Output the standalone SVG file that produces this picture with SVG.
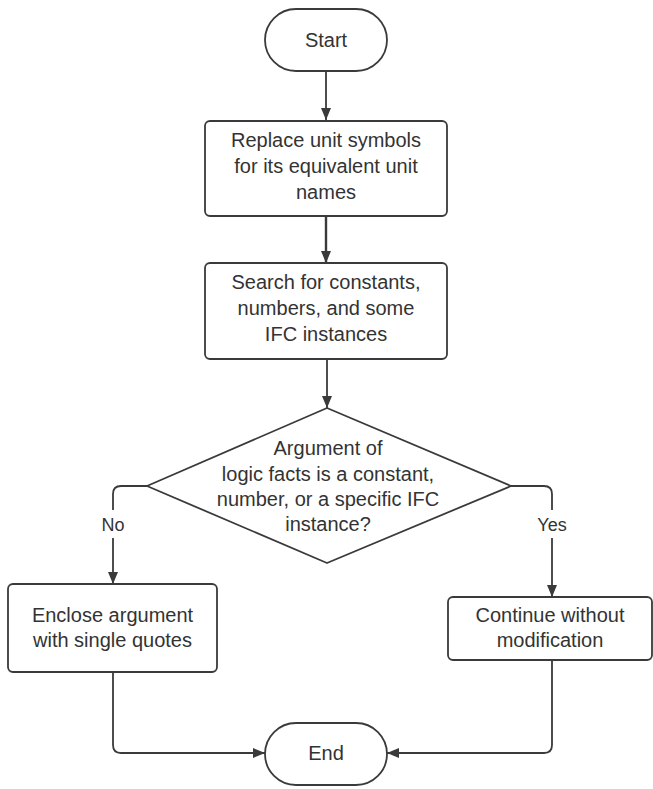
<svg xmlns="http://www.w3.org/2000/svg" width="653" height="789" viewBox="0 0 653 789">
<defs>
<style>
.node{fill:#fff;stroke:#3a3a3a;stroke-width:1.8}
.t{font-family:"Liberation Sans",Arial,sans-serif;font-size:20px;fill:#333;text-anchor:middle}
.lbl{font-family:"Liberation Sans",Arial,sans-serif;font-size:18px;fill:#333;text-anchor:middle}
.c{fill:none;stroke:#3a3a3a;stroke-width:1.8}
</style>
<marker id="ah" markerUnits="userSpaceOnUse" markerWidth="12" markerHeight="10" refX="12" refY="5" orient="auto">
<path d="M0,0 L12,5 L0,10 z" fill="#3a3a3a"/>
</marker>
</defs>
<rect width="653" height="789" fill="#fff"/>
<g id="connectors">
<path class="c" d="M326,71 V120" marker-end="url(#ah)"/>
<path class="c" d="M326,216 V263" marker-end="url(#ah)" style="stroke-width:2.4"/>
<path class="c" d="M327,359 V408" marker-end="url(#ah)"/>
<path class="c" d="M147,486 H121 Q113,486 113,494 V510"/>
<path class="c" d="M113,538 V584" marker-end="url(#ah)"/>
<path class="c" d="M511,486 H544 Q552,486 552,494 V510"/>
<path class="c" d="M552,538 V597" marker-end="url(#ah)"/>
<path class="c" d="M113,672 V745 Q113,753 121,753 H265" marker-end="url(#ah)"/>
<path class="c" d="M552,660 V745 Q552,753 544,753 H387" marker-end="url(#ah)"/>
<text class="lbl" x="113" y="531">No</text>
<text class="lbl" x="552" y="531">Yes</text>
</g>
<g id="start">
<rect class="node" x="265" y="9" width="122" height="62" rx="31"/>
<text class="t" x="326" y="47">Start</text>
</g>
<g id="replace">
<rect class="node" x="205" y="121" width="242" height="95" rx="5"/>
<text class="t" x="326" y="147">Replace unit symbols</text>
<text class="t" x="326" y="173">for its equivalent unit</text>
<text class="t" x="326" y="199">names</text>
</g>
<g id="search">
<rect class="node" x="205" y="263" width="242" height="96" rx="5"/>
<text class="t" x="326" y="289">Search for constants,</text>
<text class="t" x="326" y="315">numbers, and some</text>
<text class="t" x="326" y="341">IFC instances</text>
</g>
<g id="decision">
<polygon class="node" points="327,408 511,486 327,563 147,486" stroke-linejoin="round"/>
<text class="t" x="328" y="455">Argument of</text>
<text class="t" x="328" y="481">logic facts is a constant,</text>
<text class="t" x="328" y="506">number, or a specific IFC</text>
<text class="t" x="328" y="531">instance?</text>
</g>
<g id="enclose">
<rect class="node" x="8" y="584" width="209" height="88" rx="5"/>
<text class="t" x="112.5" y="622">Enclose argument</text>
<text class="t" x="112.5" y="647">with single quotes</text>
</g>
<g id="continue">
<rect class="node" x="448" y="597" width="204" height="63" rx="5"/>
<text class="t" x="550" y="622">Continue without</text>
<text class="t" x="550" y="647">modification</text>
</g>
<g id="end">
<rect class="node" x="265" y="723" width="122" height="62" rx="31"/>
<text class="t" x="326" y="760">End</text>
</g>
</svg>
